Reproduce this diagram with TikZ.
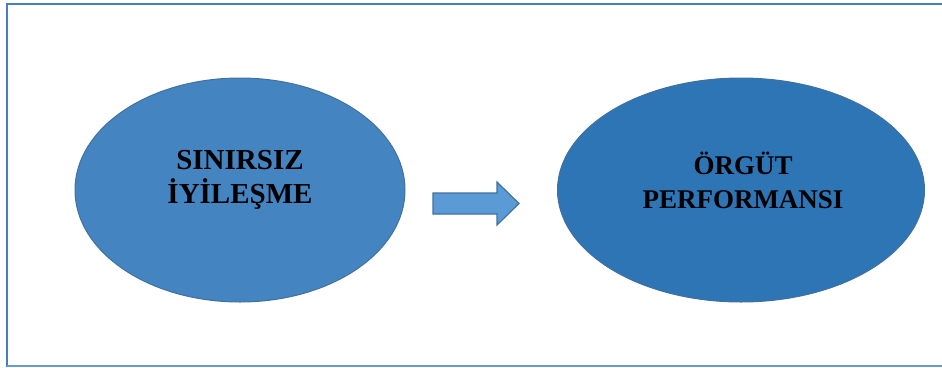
\documentclass[tikz,border=0pt]{standalone}
\usepackage{fontspec}
\setmainfont{Liberation Serif}
\definecolor{framecol}{RGB}{74,126,187}
\definecolor{edgecol}{RGB}{65,113,156}
\definecolor{leftfill}{RGB}{68,132,193}
\definecolor{rightfill}{RGB}{46,117,182}
\definecolor{arrowfill}{RGB}{91,155,213}
\usetikzlibrary{shapes.geometric}
\tikzset{
  blob/.style={ellipse, draw=edgecol, line width=1pt, inner sep=0pt},
  blobtext/.style={align=center, inner sep=0pt, font=\bfseries},
}
\begin{document}
\begin{tikzpicture}[x=1pt,y=-1pt]
\useasboundingbox (0,0) rectangle (942,367);
% frame
\draw[framecol, line width=2pt] (7,367) -- (7,4) -- (944,4);
\draw[framecol!80, line width=1.5pt] (7,366) -- (944,366);
% ellipses
\node[blob, fill=leftfill, minimum width=330pt, minimum height=224pt] (sinir) at (240,190) {};
\node[blob, fill=rightfill, minimum width=367pt, minimum height=224pt] (orgut) at (741,190) {};
\node[blobtext, font=\fontsize{29}{34}\selectfont\bfseries] (sinirtext) at (240,180) {SINIRSIZ\\İYİLEŞME};
\node[blobtext, font=\fontsize{27}{34}\selectfont\bfseries] (orguttext) at (743,180) {ÖRGÜT\\PERFORMANSI};
% block arrow
\draw[edgecol, fill=arrowfill, line width=1.2pt, line join=miter]
  (433,193) -- (497,193) -- (497,182) -- (519,203.5) -- (497,225)
  -- (497,214) -- (433,214) -- cycle;
\end{tikzpicture}
\end{document}
